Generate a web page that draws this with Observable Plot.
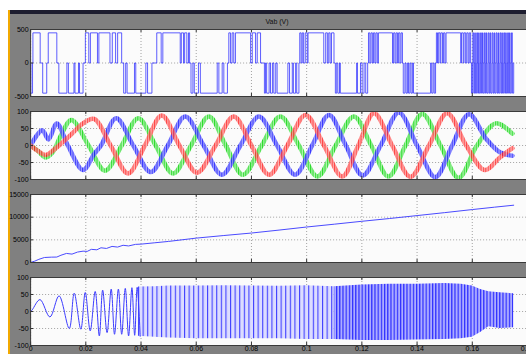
<!DOCTYPE html>
<html><head><meta charset="utf-8">
<script src="https://cdn.jsdelivr.net/npm/d3@7"></script>
<script src="https://cdn.jsdelivr.net/npm/@observablehq/plot@0.6"></script>
<style>
html,body{margin:0;padding:0;width:526px;height:354px;overflow:hidden;background:#fff;}
#stage{position:absolute;left:0;top:0;width:526px;height:354px;overflow:hidden;background:#fff;}
#gray{position:absolute;left:10px;top:14px;width:516px;height:340px;background:#808080;}
#orange{position:absolute;left:8px;top:10px;width:2px;height:344px;background:#f2a900;}
#toolbar{position:absolute;left:10px;top:10px;width:516px;height:4px;background:#1d1d2f;}
#title{position:absolute;left:247px;top:18px;width:60px;text-align:center;font:7px 'Liberation Sans',Arial,sans-serif;color:#111;}
</style></head>
<body>
<div id="stage">
  <div id="gray"></div>
  <div id="toolbar"></div>
  <div id="orange"></div>
  <div id="title">Vab (V)</div>
</div>
<script>
// ---------- axes ----------
const xTicks = [0, 0.02, 0.04, 0.06, 0.08, 0.1, 0.12, 0.14, 0.16, 0.18];
const xTickLabels = ["0", "0.02", "0.04", "0.06", "0.08", "0.1", "0.12", "0.14", "0.16", "0.18"];
const vabTicks = [-500, 0, 500];
const currentTicks = [-100, -50, 0, 50, 100];
const speedTicks = [0, 5000, 10000, 15000];
const torqueTicks = [-100, -50, 0, 50, 100];

// ---------- panel 1: Vab PWM pulses [start ms, end ms] ----------
const vabLevel = 450;
const vabHigh = [
  [0.84,3.47],[6.39,9.50],
  [19.84,21.08],[21.66,24.22],[24.73,28.75],[29.59,30.79],[31.53,32.99],
  [45.7,47.3],[47.9,54.2],[54.6,55.4],[55.8,56.6],[57.2,57.6],
  [71.8,72.4],[73.0,73.6],[74.2,79.7],[80.3,81.5],[82.1,83.3],
  [97.5,98.0],[98.4,98.9],[99.5,100.2],[100.5,106.2],[106.9,107.5],[108.0,108.5],[109.0,109.9],
  [122.4,122.9],[123.3,123.8],[124.2,124.7],[125.1,125.6],[126.0,131.1],[131.5,132.0],[132.4,132.9],[133.3,133.8],[134.2,134.7],
  [147.0,147.4],[147.7,148.3],[148.6,149.2],[149.6,150.1],[150.5,155.8],[156.1,156.7],[157.0,157.6],[158.0,158.5],[158.9,159.4],
  [160.2,160.5],[160.9,161.1],[161.6,161.9],[162.3,162.5],[163.0,163.3],[163.7,163.9],[164.4,164.7],[165.1,165.3],[165.8,166.1],
  [166.5,166.7],[167.2,167.5],[167.9,168.1],[168.6,168.9],[169.3,169.5],[170.0,170.3],[170.7,170.9],[171.4,171.7],[172.1,172.3],
  [172.8,173.1],[173.5,173.7],[174.2,174.5]
];
const vabLow = [
  [0.1,0.7],[4.38,5.84],[10.23,13.15],[13.70,15.71],[16.07,17.35],[17.72,19.00],
  [33.72,34.45],[34.96,37.63],[38.10,41.75],[42.37,43.95],
  [58.1,58.8],[59.3,60.8],[61.5,67.6],[68.2,69.4],[70.0,71.3],
  [84.7,85.1],[85.5,86.4],[86.9,87.6],[88.1,88.8],[89.3,93.2],[93.8,94.8],[95.2,96.0],[96.4,97.2],
  [110.4,110.9],[111.3,111.9],[112.2,118.1],[118.4,119.5],[120.1,120.8],[121.4,122.1],
  [135.0,135.6],[136.0,136.5],[136.9,137.4],[137.8,138.3],[138.7,144.9],[145.3,145.8],[146.2,146.7],
  [159.7,160.1],[160.55,160.85],[161.15,161.55],[161.95,162.25],[162.55,162.95],[163.35,163.65],[163.95,164.35],
  [164.75,165.05],[165.35,165.75],[166.15,166.45],[166.75,167.15],[167.55,167.85],[168.15,168.55],[168.95,169.25],
  [169.55,169.95],[170.35,170.65],[170.95,171.35],[171.75,172.05],[172.35,172.75],[173.15,173.45],[173.75,174.15],[174.55,175.0]
];

// ---------- panel 2: phase currents [ms, A] (extremes and zero crossings) ----------
const currentBlue = [[0,0],[4.2,45],[6.5,18],[9.5,65],[13.5,0],[19,-72],[23,-25],[25.5,0],[31,80],[37.2,0],[43.5,-78],[49.7,0],[56,85],[62.7,0],[69.3,-86],[76,0],[82.7,85],[89.3,0],[95.8,-86],[102,0],[108.1,90],[114.2,0],[120.3,-88],[126.8,0],[133.4,97],[140,0],[146.6,-93],[152.7,0],[158.8,92],[165,20],[170,-20],[174.5,-30]];
const currentRed = [[0,0],[2.5,-15],[5.5,-28],[8.5,-12],[11,5],[15,35],[19,65],[23,78],[29,0],[35.3,-82],[41.4,0],[47.5,88],[53.9,0],[60.3,-80],[67,0],[73.6,85],[80,0],[86.4,-86],[93,0],[99.6,90],[106.3,0],[112.9,-91],[118.7,0],[124.4,95],[131,0],[137.6,-92],[144.3,0],[150.9,95],[157.8,0],[164.5,-72],[170,-35],[174.5,-8]];
const currentGreen = [[0,0],[2.5,-15],[5.5,-35],[8,-20],[11,30],[14.8,75],[21,0],[27,-74],[33,0],[39,80],[45.3,0],[51.6,-82],[58.1,0],[64.6,85],[70.7,0],[76.9,-86],[83.7,0],[90.5,85],[97.2,0],[103.9,-91],[110.5,0],[117.1,85],[123.4,0],[129.6,-91],[135.8,0],[141.9,93],[148.5,0],[155,-95],[161.7,0],[168.5,65],[174.5,35]];

// ---------- panel 3: speed [ms, value] ----------
const speedT = [0,1.5,3,5,7.5,9.5,11,13,15,17,19,20.5,22,24,25.5,27.5,29.5,31.5,33.5,35.5,38,40,45,50,60,70,80,90,100,110,120,130,140,150,160,168,175];
const speedV = [0,300,700,1100,1180,1200,1600,2000,1850,2300,2500,2450,2900,2800,3250,3100,3550,3400,3800,3650,4000,4050,4350,4650,5380,5950,6500,7150,7830,8450,9090,9700,10350,11000,11680,12200,12640];

// ---------- panel 4: torque [ms, value] early swings + envelope of dense part ----------
const torqueEarly = [[0,0],[0.6,5],[3.4,35],[7.0,-16],[10.3,46],[14.0,-50],[15.8,54],[18.2,-52],[19.8,56],[21.6,-57],[23.4,59],[24.9,-72],[26.1,63],[27.7,-62],[29.2,66],[30.4,-67],[31.8,66],[33.0,-67],[34.3,68],[35.5,-72],[36.7,70],[37.7,-70],[38.6,71],[39.7,-73]];
const bandT  = [39, 45, 50, 60, 70, 80, 90, 100, 110, 120, 130, 140, 150, 156, 160, 163, 166, 170, 175];
const bandHi = [72, 73, 75, 75, 76, 75, 74, 76, 73, 78, 80, 80, 82, 80, 75, 65, 58, 55, 52];
const bandLo = [-73, -76, -78, -80, -80, -80, -80, -82, -82, -85, -85, -84, -82, -80, -76, -62, -45, -50, -48];

// ---------- build tables ----------
const pulses = [...vabHigh.map(p => [p[0], p[1], vabLevel]), ...vabLow.map(p => [p[0], p[1], -vabLevel])].sort((a, b) => a[0] - b[0]);
const vabPts = [{t: 0, v: 0}];
for (const [s, e, L] of pulses) {
  vabPts.push({t: s / 1000, v: 0}, {t: s / 1000, v: L}, {t: e / 1000, v: L}, {t: e / 1000, v: 0});
}
const toRows = arr => arr.map(([t, v]) => ({t: t / 1000, v}));
const speedRows = speedT.map((t, i) => ({t: t / 1000, v: speedV[i]}));
const bandRows = bandT.map((t, i) => ({t: t / 1000, hi: bandHi[i], lo: bandLo[i]}));
const bandA = bandRows.filter(d => d.t <= 0.110);
const bandB = bandRows.filter(d => d.t >= 0.110);

const stage = document.getElementById("stage");

function addPatterns(svg, pats) {
  const defs = d3.select(svg).insert("defs", ":first-child");
  for (const p of pats) {
    const pat = defs.append("pattern").attr("id", p.id).attr("patternUnits", "userSpaceOnUse")
      .attr("width", p.w).attr("height", 10);
    pat.append("rect").attr("width", p.w).attr("height", 10).attr("fill", p.bg);
    pat.append("rect").attr("width", p.lw).attr("height", 10).attr("fill", p.fg);
  }
}

function makePanel(o) {
  const mt = 8, mb = o.showX ? 14 : 8;
  const [y0, y1] = o.yDomain;
  const span = y1 - y0;
  const tickLen = span * 0.045;
  const svg = Plot.plot({
    width: 540, height: o.h + mt + mb,
    marginLeft: 30.1, marginRight: 13, marginTop: mt, marginBottom: mb,
    style: {background: "transparent", fontSize: "7px", fontFamily: "'Liberation Sans', Arial, sans-serif", color: "#000", overflow: "visible", maxWidth: "none"},
    x: {domain: [0, 0.18], axis: o.showX ? "bottom" : null, ticks: xTicks, tickSize: 0, tickPadding: 1,
        tickFormat: d => xTickLabels[xTicks.findIndex(v => Math.abs(v - d) < 1e-9)], label: null},
    y: {domain: o.yDomain, ticks: o.yTicks, tickSize: 0, tickPadding: 2, tickFormat: d => String(d), label: null},
    marks: [
      Plot.frame({fill: "#fbfbfb", stroke: null}),
      Plot.ruleX(xTicks, {x: d => d, y1: y0, y2: y1, stroke: "#8c8c8c", strokeWidth: 0.8, strokeDasharray: "1,2"}),
      Plot.ruleY(o.yTicks, {y: d => d, x1: 0, x2: 0.18, stroke: "#8c8c8c", strokeWidth: 0.8, strokeDasharray: "1,2"}),
      ...o.marks,
      Plot.ruleX(xTicks, {x: d => d, y1: y1, y2: y1 - tickLen, stroke: "#333", strokeWidth: 1}),
      Plot.ruleX(xTicks, {x: d => d, y1: y0, y2: y0 + tickLen, stroke: "#333", strokeWidth: 1}),
      Plot.ruleY(o.yTicks, {y: d => d, x1: 0, x2: 0.0011, stroke: "#333", strokeWidth: 1}),
      Plot.frame({stroke: "#3a3a3a", strokeWidth: 1})
    ]
  });
  if (o.patterns) addPatterns(svg, o.patterns);
  svg.style.position = "absolute";
  svg.style.left = "0px";
  svg.style.top = (o.top - mt) + "px";
  stage.appendChild(svg);
}

// Panel 1
makePanel({
  top: 29, h: 67, yDomain: [-500, 500], yTicks: vabTicks,
  marks: [Plot.line(vabPts, {x: "t", y: "v", stroke: "#3636ff", strokeWidth: 1, strokeOpacity: 0.8, clip: true})]
});

// Panel 2
makePanel({
  top: 111, h: 68, yDomain: [-100, 100], yTicks: currentTicks,
  patterns: [
    {id: "pb", w: 2.4, lw: 1.1, bg: "#9494ff", fg: "#1c1cff"},
    {id: "pr", w: 2.4, lw: 1.1, bg: "#ff9c9c", fg: "#ff1c1c"},
    {id: "pg", w: 2.4, lw: 1.1, bg: "#a4f2a4", fg: "#1bd81b"}
  ],
  marks: [
    Plot.line(toRows(currentGreen), {x: "t", y: "v", curve: "catmull-rom", stroke: "url(#pg)", strokeWidth: 4.5, strokeOpacity: 0.9, clip: true}),
    Plot.line(toRows(currentBlue), {x: "t", y: "v", curve: "catmull-rom", stroke: "url(#pb)", strokeWidth: 4.5, strokeOpacity: 0.85, clip: true}),
    Plot.line(toRows(currentRed), {x: "t", y: "v", curve: "catmull-rom", stroke: "url(#pr)", strokeWidth: 4.5, strokeOpacity: 0.8, clip: true})
  ]
});

// Panel 3
makePanel({
  top: 194, h: 68, yDomain: [0, 15000], yTicks: speedTicks,
  marks: [Plot.line(speedRows, {x: "t", y: "v", stroke: "#4a4aff", strokeWidth: 1, clip: true})]
});

// Panel 4
makePanel({
  top: 277, h: 68, yDomain: [-100, 100], yTicks: torqueTicks, showX: true,
  patterns: [
    {id: "tq1", w: 4.6, lw: 1.1, bg: "#dcdcff", fg: "#4040ff"},
    {id: "tq2", w: 3.2, lw: 1.2, bg: "#acacff", fg: "#2c2cff"}
  ],
  marks: [
    Plot.areaY(bandA, {x: "t", y1: "lo", y2: "hi", fill: "url(#tq1)", curve: "linear"}),
    Plot.areaY(bandB, {x: "t", y1: "lo", y2: "hi", fill: "url(#tq2)", curve: "linear"}),
    Plot.line(toRows(torqueEarly), {x: "t", y: "v", curve: "catmull-rom", stroke: "#3c3cff", strokeWidth: 1, clip: true})
  ]
});
</script>
</body></html>
